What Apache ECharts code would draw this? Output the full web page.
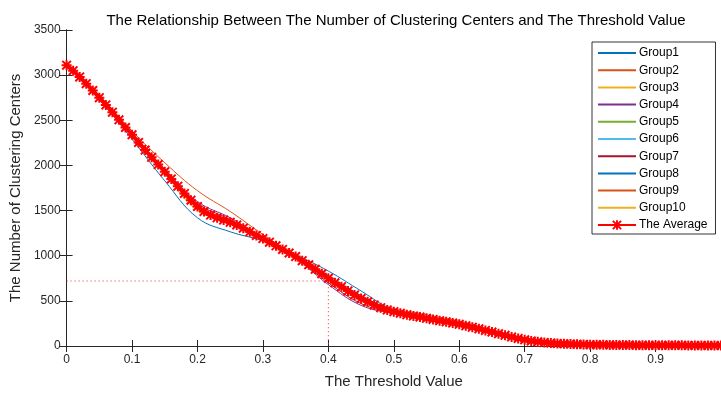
<!DOCTYPE html>
<html>
<head>
    <meta charset="utf-8">
    <title>Clustering Centers vs Threshold</title>
    <script src="https://cdn.jsdelivr.net/npm/echarts@6/dist/echarts.min.js"></script>
    <style type="text/css">
        *{margin: 0;padding: 0;}
        body{background: #fff;overflow: hidden;}
    </style>
</head>
<body>
<div id="main" style="width: 721px;height: 394px;"></div>
<script type="text/javascript">
    // x positions of the group curves
    var groupX = [0,0.05,0.1,0.15,0.2,0.25,0.3,0.35,0.4,0.45,0.5,0.55,0.6,0.65,0.7,0.75,0.8,0.85,0.9,0.95,1];
    var group1 = [3110,2735,2290,1830,1420,1265,1165,1010,830,610,395,310,242,152,66,28,15,10,8,6,5];
    var group2 = [3110,2775,2380,2030,1720,1490,1235,995,745,540,415,345,275,180,80,32,17,11,8,6,5];
    var group3 = [3110,2745,2330,1910,1500,1380,1200,985,760,530,385,310,243,156,70,28,15,10,8,6,5];
    var group4 = [3110,2760,2355,1960,1600,1420,1200,975,680,450,360,300,236,150,66,26,14,10,8,6,5];
    var group5 = [3110,2750,2340,1925,1540,1375,1195,995,755,525,378,305,238,152,68,27,15,10,8,6,5];
    var group6 = [3110,2750,2345,1935,1550,1365,1185,990,760,535,382,308,240,155,69,28,15,10,8,6,5];
    var group7 = [3110,2755,2350,1945,1580,1400,1195,980,700,470,365,302,238,151,67,26,14,10,8,6,5];
    var group8 = [3110,2745,2335,1920,1530,1360,1190,1000,780,560,390,308,240,154,68,27,15,10,8,6,5];
    var group9 = [3110,2755,2345,1940,1560,1380,1195,990,740,515,375,310,245,160,72,29,16,11,8,6,5];
    var group10 = [3110,2750,2335,1925,1520,1355,1185,995,765,540,385,306,239,153,68,27,15,10,8,6,5];

    // the average, one point every 0.01
    var avgX = [0,0.01,0.02,0.03,0.04,0.05,0.06,0.07,0.08,0.09,
        0.1,0.11,0.12,0.13,0.14,0.15,0.16,0.17,0.18,0.19,
        0.2,0.21,0.22,0.23,0.24,0.25,0.26,0.27,0.28,0.29,
        0.3,0.31,0.32,0.33,0.34,0.35,0.36,0.37,0.38,0.39,
        0.4,0.41,0.42,0.43,0.44,0.45,0.46,0.47,0.48,0.49,
        0.5,0.51,0.52,0.53,0.54,0.55,0.56,0.57,0.58,0.59,
        0.6,0.61,0.62,0.63,0.64,0.65,0.66,0.67,0.68,0.69,
        0.7,0.71,0.72,0.73,0.74,0.75,0.76,0.77,0.78,0.79,
        0.8,0.81,0.82,0.83,0.84,0.85,0.86,0.87,0.88,0.89,
        0.9,0.91,0.92,0.93,0.94,0.95,0.96,0.97,0.98,0.99,1];
    var avgY = [3110,3050,2980,2905,2830,2750,2670,2590,2505,2420,
        2340,2255,2170,2090,2010,1930,1850,1770,1690,1615,
        1545,1490,1450,1420,1395,1370,1340,1305,1265,1225,
        1190,1150,1110,1070,1030,990,945,900,850,800,
        750,700,655,610,565,525,490,455,425,400,
        380,362,347,333,320,307,294,281,268,254,
        240,224,207,190,172,154,136,118,100,84,
        68,56,46,38,32,27,24,21,19,17,
        15,14,13,12,11,10,10,9,9,8,
        8,8,7,7,7,6,6,6,5,5,5];

    // the marked point (dotted guide lines)
    var markX = 0.4;
    var markY = 720;

    var groupNames = ['Group1','Group2','Group3','Group4','Group5','Group6','Group7','Group8','Group9','Group10'];
    var groupData = [group1,group2,group3,group4,group5,group6,group7,group8,group9,group10];
    var groupColors = ['#0072BD','#D95319','#EDB120','#7E2F8E','#77AC30','#4DBEEE','#A2142F','#0072BD','#D95319','#EDB120'];

    // matlab style '*' marker
    var star = 'path://M4 0h2v10h-2z M0 4h10v2h-10z M1.4 0L10 8.6 8.6 10 0 1.4z M8.6 0L10 1.4 1.4 10 0 8.6z';
    var font = 'Liberation Sans';
    var ink = '#262626';

    function pairs(xs, ys){
        var out = [];
        for(var i=0;i<xs.length;i++){
            out.push([xs[i], ys[i]]);
        }
        return out;
    }

    var series = [];
    var legendData = [];
    for(var g=0;g<groupData.length;g++){
        series.push({
            name: groupNames[g],
            type: 'line',
            smooth: 0.4,
            symbol: 'none',
            lineStyle: {color: groupColors[g], width: 1},
            itemStyle: {color: groupColors[g]},
            data: pairs(groupX, groupData[g]),
            z: 2
        });
        // hide the dot in the legend, keep only the line
        legendData.push({name: groupNames[g], itemStyle: {opacity: 0}});
    }
    legendData.push({name: 'The Average'});
    series.push({
        name: 'guide',
        type: 'line',
        symbol: 'none',
        lineStyle: {color: '#e8333a', width: 1, type: [1, 3]},
        data: [[0, markY],[markX, markY],[markX, 0]],
        z: 1
    });
    series.push({
        name: 'The Average',
        type: 'line',
        symbol: star,
        symbolSize: 10,
        lineStyle: {color: '#ff0000', width: 4},
        itemStyle: {color: '#ff0000'},
        data: pairs(avgX, avgY),
        z: 3
    });

    var myChart = echarts.init(document.getElementById('main'));
    var option = {
        animation: false,
        title: {
            text: 'The Relationship Between The Number of Clustering Centers and The Threshold Value',
            left: 391,
            textAlign: 'center',
            top: 8,
            textStyle: {fontFamily: font, fontSize: 15, fontWeight: 'normal', color: '#000'}
        },
        grid: {left: 66, top: 30, width: 659, height: 319},
        legend: {
            data: legendData,
            orient: 'vertical',
            left: 592,
            top: 42,
            padding: [5, 8, 3, 5],
            itemWidth: 38,
            itemHeight: 12,
            itemGap: 5.2,
            backgroundColor: '#fff',
            borderColor: '#000',
            borderWidth: 0.8,
            borderRadius: 0,
            textStyle: {fontFamily: font, fontSize: 12, color: '#000', padding: [0, 0, 0, -2]}
        },
        xAxis: [{
            type: 'value',
            min: 0,
            max: 1,
            interval: 0.1,
            name: 'The Threshold Value',
            nameLocation: 'middle',
            nameGap: 28,
            nameTextStyle: {fontFamily: font, fontSize: 15, color: ink},
            axisLine: {lineStyle: {color: ink, width: 1}},
            axisTick: {inside: true, length: 6, lineStyle: {color: ink}},
            axisLabel: {fontFamily: font, fontSize: 12, color: ink, margin: 8, showMaxLabel: false},
            splitLine: {show: false}
        },{
            type: 'value',
            position: 'top',
            min: 0,
            max: 1,
            interval: 0.1,
            axisLine: {lineStyle: {color: ink, width: 1}},
            axisTick: {inside: true, length: 6, lineStyle: {color: ink}},
            axisLabel: {show: false},
            splitLine: {show: false}
        }],
        yAxis: [{
            type: 'value',
            min: 0,
            max: 3500,
            interval: 500,
            name: 'The Number of Clustering Centers',
            nameLocation: 'middle',
            nameGap: 40,
            nameTextStyle: {fontFamily: font, fontSize: 15, color: ink},
            axisLine: {show: true, lineStyle: {color: ink, width: 1}},
            axisTick: {show: true, inside: true, length: 6, lineStyle: {color: ink}},
            axisLabel: {fontFamily: font, fontSize: 12, color: ink, margin: 6, formatter: function(v){ return String(v); }},
            splitLine: {show: false}
        },{
            type: 'value',
            position: 'right',
            min: 0,
            max: 3500,
            interval: 500,
            axisLine: {show: true, lineStyle: {color: ink, width: 1}},
            axisTick: {show: true, inside: true, length: 7, lineStyle: {color: ink}},
            axisLabel: {show: false},
            splitLine: {show: false}
        }],
        series: series
    };
    myChart.setOption(option);
</script>
</body>
</html>
